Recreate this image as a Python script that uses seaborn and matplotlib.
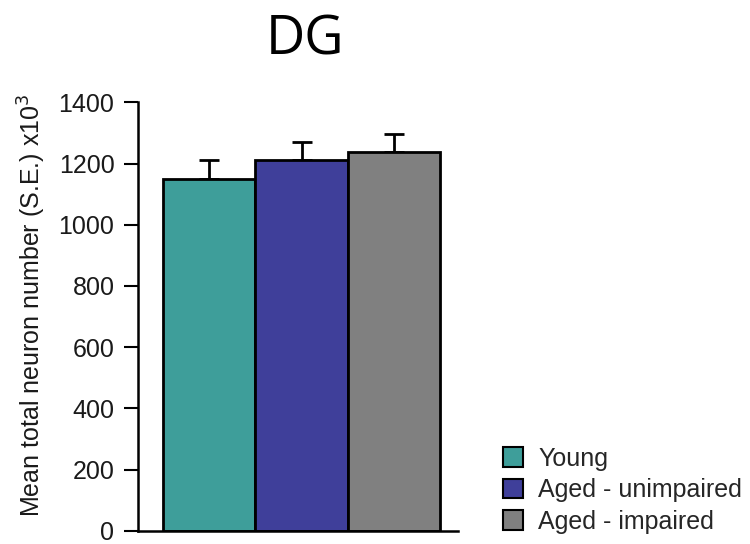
import matplotlib
matplotlib.use("Agg")
import matplotlib.pyplot as plt
import seaborn as sns
import pandas as pd
from matplotlib.patches import Patch

groups = ["Young", "Aged - unimpaired", "Aged - impaired"]
means = [1150, 1210, 1238]
errors = [60, 60, 60]
colors = ["#3E9E9A", "#3F3F9A", "#808080"]
yticks = [0, 200, 400, 600, 800, 1000, 1200, 1400]

sns.set_theme(style="white")
plt.rcParams['font.family'] = ['Liberation Sans', 'DejaVu Sans']

df = pd.DataFrame({"group": groups, "mean": means})

fig = plt.figure(figsize=(7.5, 5.44), dpi=100)
ax = fig.add_axes([0.184, 0.024, 0.427, 0.788])

sns.barplot(data=df, x="group", y="mean", hue="group", palette=colors,
            saturation=1, width=1.0, dodge=False, legend=False, edgecolor="black",
            linewidth=2, ax=ax, errorbar=None)
ax.errorbar(range(len(groups)), means, yerr=[[0]*len(errors), errors],
            fmt="none", ecolor="black", elinewidth=2, capsize=7, capthick=2, zorder=0)

ax.set_ylim(0, 1400)
ax.set_xlim(-0.772, 2.696)
ax.set_yticks(yticks)
ax.set_yticklabels([str(t) for t in yticks], fontsize=18, color="#1a1a1a")
ax.set_xticks([])
ax.set_xlabel("")
ax.set_ylabel(r"Mean total neuron number (S.E.) x10$^3$", fontsize=18, color="#1a1a1a")
ax.yaxis.set_label_coords(-0.281, 0.527)
ax.tick_params(axis="y", length=10, width=1.5, color="black", pad=7, left=True)
for s in ["top", "right"]:
    ax.spines[s].set_visible(False)
for s in ["left", "bottom"]:
    ax.spines[s].set_color("black")
    ax.spines[s].set_linewidth(1.8)

fig.text(0.407, 0.926, "DG", fontsize=39, ha="center", va="center", color="black",
         family=["Open Sans", "DejaVu Sans"])

handles = [Patch(facecolor=c, edgecolor="black", linewidth=1.5) for c in colors]
fig.legend(handles, groups, loc="lower left", bbox_to_anchor=(0.671, 0.019),
           frameon=False, fontsize=18, handlelength=0.8, handleheight=0.8,
           handletextpad=0.6, labelspacing=0.3, borderaxespad=0, borderpad=0)

fig.savefig("out.png", dpi=100)
